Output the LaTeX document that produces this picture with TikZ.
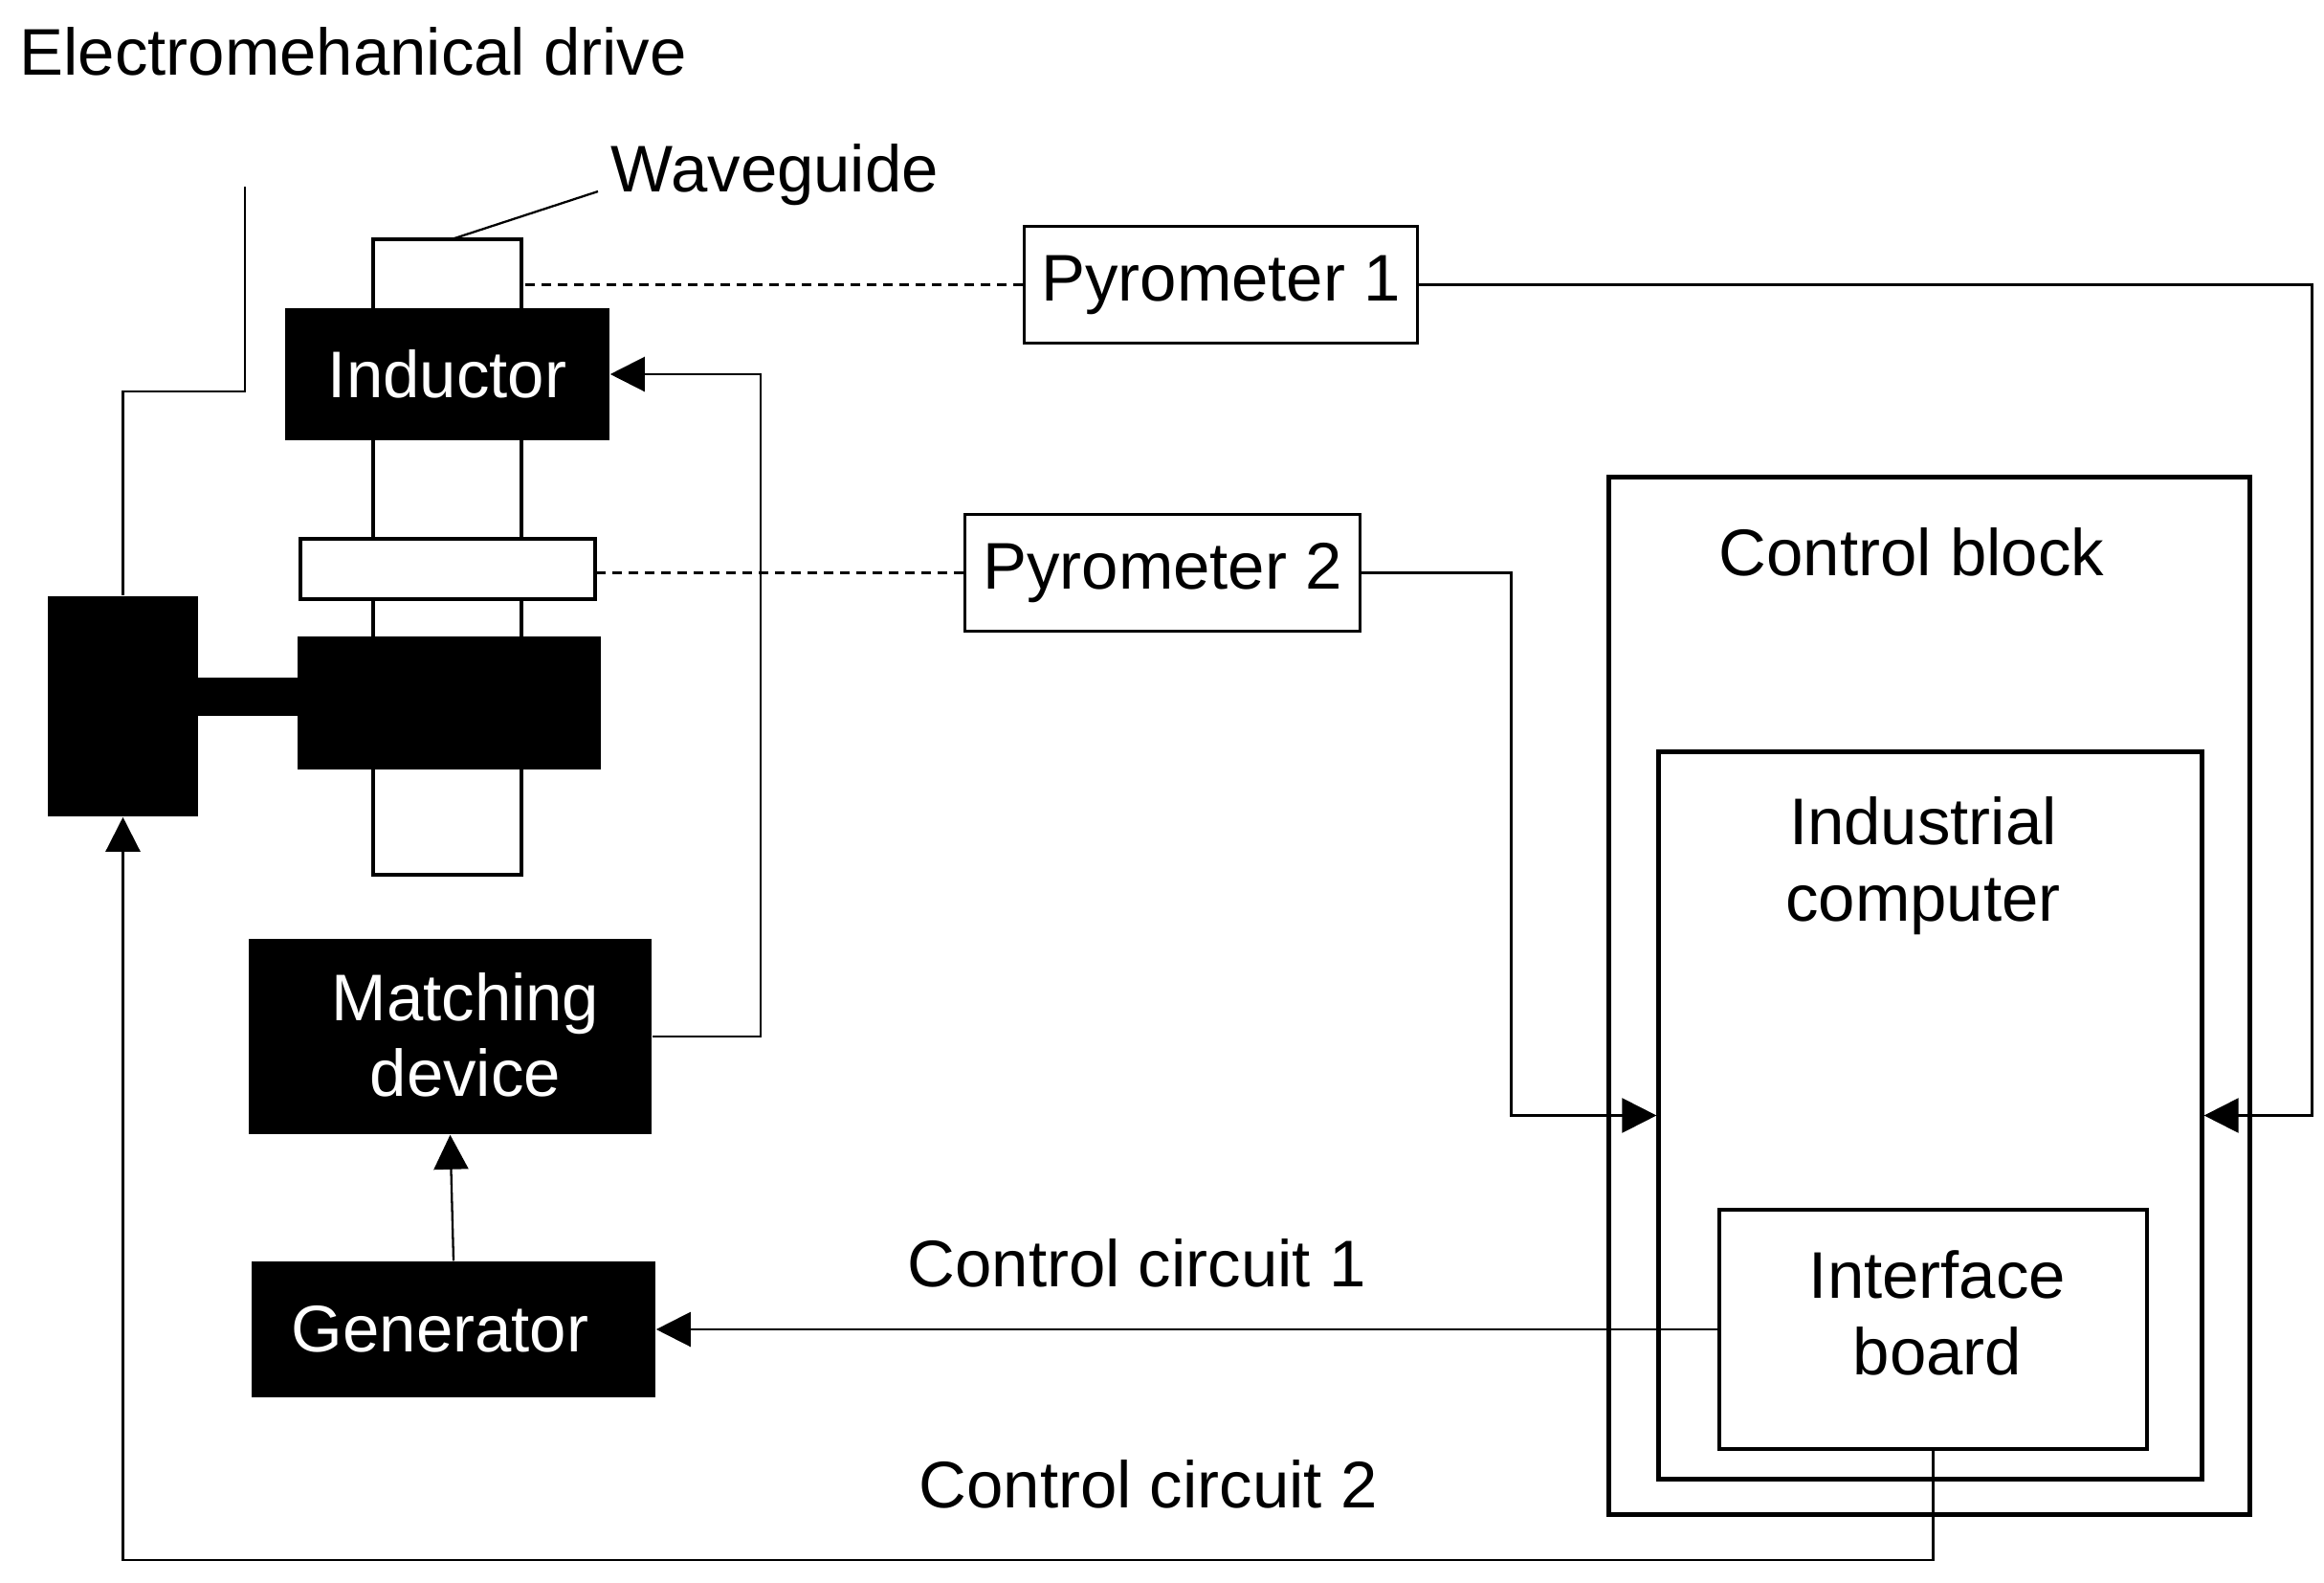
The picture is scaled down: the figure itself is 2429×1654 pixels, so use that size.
\documentclass[tikz,border=0pt]{standalone}
\usepackage{fontspec}
\setmainfont{Liberation Sans}
\usetikzlibrary{arrows.meta,calc}
\begin{document}
\begin{tikzpicture}[x=0.01cm,y=-0.01cm,
  every node/.style={font=\fontsize{19.6}{22.5}\selectfont},
  blk/.style={fill=black,text=white,inner sep=0pt,align=center},
  wbox/.style={draw=black,fill=white,line width=1.1pt,inner sep=0pt},
  pbox/.style={draw=black,line width=0.85pt,inner sep=0pt,minimum width=4.1cm,minimum height=1.21cm},
  cbox/.style={draw=black,line width=1.4pt,inner sep=0pt},
  lbl/.style={inner sep=0pt,anchor=base west},
  conn/.style={line width=0.65pt},
  arr/.style={conn,-{Triangle[length=3.6mm,width=3.6mm]}},
  dline/.style={line width=0.75pt,dash pattern=on 0.1cm off 0.07cm}]
\useasboundingbox[fill=white] (0,0) rectangle (2429,1654);

% waveguide tube and parts
\node[wbox,minimum width=1.55cm,minimum height=6.64cm] (tube) at (467.5,582) {};
\node[blk,minimum width=3.39cm,minimum height=1.38cm] (ind) at (467.5,391) {Inductor};
\node[wbox,minimum width=3.08cm,minimum height=0.63cm] (plate) at (468,594.5) {};
\node[blk,minimum width=3.17cm,minimum height=1.39cm] (low) at (469.5,734.5) {};
\node[blk,minimum width=1.57cm,minimum height=2.30cm] (drive) at (128.5,738) {};
\fill[black] (207,708) rectangle (311,748);

% matching device and generator
\node[blk,minimum width=4.21cm,minimum height=2.04cm] (match) at (470.5,1083) {};
\node[inner sep=0pt,text=white,align=center] (matchtxt) at ($(match)+(16,-2)$) {Matching\\device};
\node[blk,minimum width=4.22cm,minimum height=1.42cm] (gen) at (474,1389) {};
\node[inner sep=0pt,text=white] (gentxt) at ($(gen)+(-14,0)$) {Generator};

% pyrometers
\node[pbox] (pyr1) at (1276,297.5) {Pyrometer 1};
\node[pbox,minimum width=4.12cm] (pyr2) at (1215,598.5) {Pyrometer 2};

% control block
\node[cbox,minimum width=6.69cm,minimum height=10.83cm] (cb) at (2016.5,1040.5) {};
\node[inner sep=0pt,anchor=base] (cbtxt) at (1998,601) {Control block};
\node[cbox,minimum width=5.67cm,minimum height=7.59cm] (comp) at (2017.5,1165.5) {};
\node[inner sep=0pt,anchor=base,align=center] (comptxt) at (2010,962) {Industrial\\computer};
\node[draw=black,line width=1.1pt,inner sep=0pt,minimum width=4.47cm,minimum height=2.50cm] (ib) at (2020.5,1389) {};
\node[inner sep=0pt,anchor=base,align=center] (ibtxt) at (2025,1436) {Interface\\board};

% labels
\node[lbl] (edrive) at (20,78) {Electromehanical drive};
\node[lbl] (wg) at (638,200) {Waveguide};
\node[lbl] (cc1) at (948,1344) {Control circuit 1};
\node[lbl] (cc2) at (960,1575) {Control circuit 2};

% connectors
\coordinate (drtop) at (256,195);
\draw[conn] (drive.north) -- ++(0,-213) -| (drtop);
\coordinate (wgl) at (625,200);
\coordinate (wgt) at (472,250);
\draw[conn] (wgl) -- (wgt);
\draw[dline] (pyr1.west) -- (pyr1.west -| tube.east);
\draw[dline] (pyr2.west) -- (pyr2.west -| plate.east);
\draw[arr] (pyr1.east) -- ++(934,0) |- (comp.east);
\draw[arr] (pyr2.east) -- ++(157,0) |- (comp.west);
\draw[arr] (match.east) -- ++(113,0) |- (ind.east);
\draw[arr] (gen.north) -- (match.south);
\draw[arr] (ib.west) -- (gen.east);
\draw[arr] (ib.south) -- ++(0,114) -| (drive.south);
\end{tikzpicture}
\end{document}
